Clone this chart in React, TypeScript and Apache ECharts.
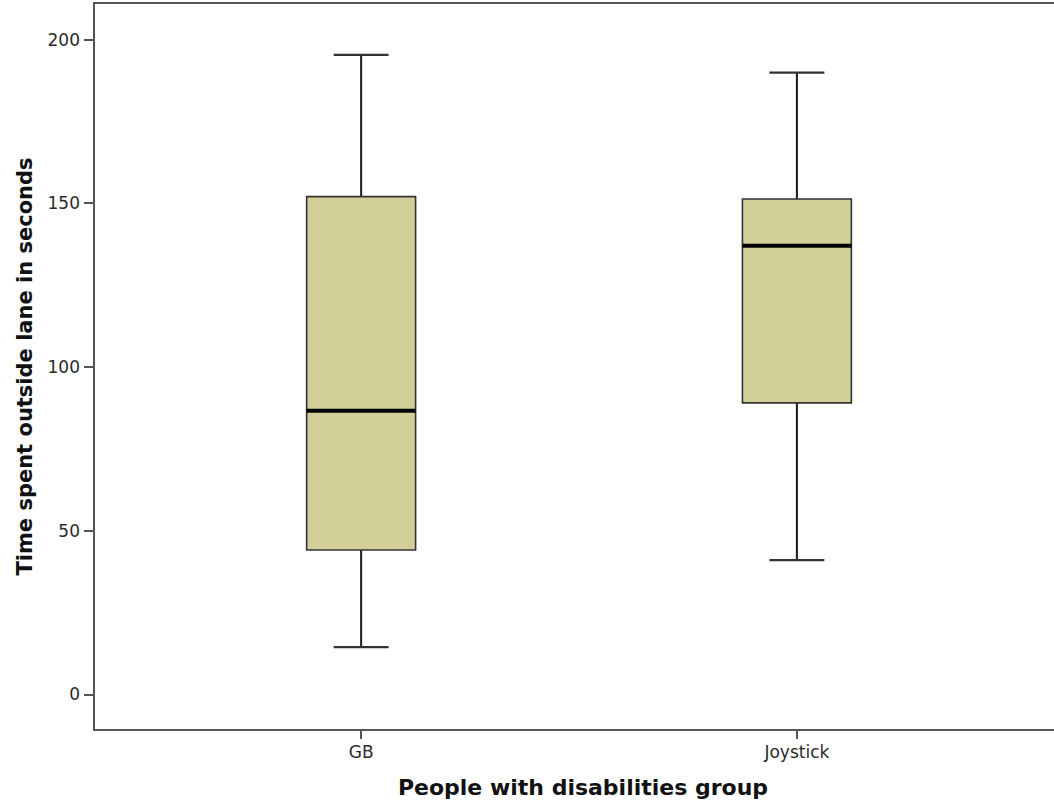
import React, { useEffect, useRef } from "react";
import * as echarts from "echarts";

const categories = ["GB", "Joystick"];
const positions = [1, 2];
const whiskerLow = [14.4, 41.0];
const quartile1 = [44.1, 89.0];
const medians = [86.6, 137.0];
const quartile3 = [152.0, 151.3];
const whiskerHigh = [195.3, 189.9];
const yTicks = [0, 50, 100, 150, 200];

const BOX_W = 0.25;
const CAP_W = 0.126;

export default function App() {
  const ref = useRef<HTMLDivElement>(null);
  useEffect(() => {
    if (!ref.current) return;
    const chart = echarts.init(ref.current, null, { renderer: "svg" });
    const data = positions.map((p, i) => [
      p,
      whiskerLow[i],
      quartile1[i],
      medians[i],
      quartile3[i],
      whiskerHigh[i],
    ]);
    const axisLineStyle = { color: "#555", width: 2 };
    const labelFont = { fontFamily: "DejaVu Sans", fontSize: 17, color: "#2a2a2a" };
    const nameFont = { fontFamily: "DejaVu Sans", fontWeight: "bold" as const, color: "#111" };
    chart.setOption({
      animation: false,
      backgroundColor: "#fff",
      grid: { left: 94, right: 0, top: 3, bottom: 77 },
      xAxis: [
        {
          type: "value",
          min: 0.387,
          max: 2.59,
          splitLine: { show: false },
          axisLine: { show: true, onZero: false, lineStyle: axisLineStyle },
          axisTick: { show: true, length: 9, customValues: positions, lineStyle: axisLineStyle },
          axisLabel: {
            ...labelFont,
            margin: 13,
            customValues: positions,
            formatter: (v: number) => categories[Math.round(v) - 1] ?? "",
          },
          name: "People with disabilities group",
          nameLocation: "middle",
          nameGap: 46,
          nameTextStyle: { ...nameFont, fontSize: 22, padding: [0, 0, 0, 18] },
        },
        {
          type: "value",
          position: "top",
          min: 0.387,
          max: 2.59,
          splitLine: { show: false },
          axisLine: { show: true, onZero: false, lineStyle: axisLineStyle },
          axisTick: { show: false },
          axisLabel: { show: false },
        },
      ],
      yAxis: {
        type: "value",
        min: -10.9,
        max: 211.15,
        splitLine: { show: false },
        axisLine: { show: true, onZero: false, lineStyle: axisLineStyle },
        axisTick: { show: true, length: 10, customValues: yTicks, lineStyle: axisLineStyle },
        axisLabel: { ...labelFont, margin: 14, customValues: yTicks },
        name: "Time spent outside lane in seconds",
        nameLocation: "middle",
        nameGap: 59,
        nameTextStyle: { ...nameFont, fontSize: 21 },
      },
      series: [
        {
          type: "custom",
          xAxisIndex: 0,
          yAxisIndex: 0,
          encode: { x: 0, y: [1, 2, 3, 4, 5] },
          data,
          renderItem: (params: any, api: any) => {
            const x = api.value(0);
            const lo = api.value(1);
            const q1 = api.value(2);
            const med = api.value(3);
            const q3 = api.value(4);
            const hi = api.value(5);
            const hb = BOX_W / 2;
            const hc = CAP_W / 2;
            const pTop = api.coord([x, hi]);
            const pQ3 = api.coord([x, q3]);
            const pQ1 = api.coord([x, q1]);
            const pLo = api.coord([x, lo]);
            const bl = api.coord([x - hb, q3]);
            const br = api.coord([x + hb, q1]);
            const ml = api.coord([x - hb, med]);
            const mr = api.coord([x + hb, med]);
            const capTL = api.coord([x - hc, hi]);
            const capTR = api.coord([x + hc, hi]);
            const capBL = api.coord([x - hc, lo]);
            const capBR = api.coord([x + hc, lo]);
            const wStyle = { stroke: "#1a1a1a", lineWidth: 2 };
            return {
              type: "group",
              children: [
                { type: "line", shape: { x1: pTop[0], y1: pTop[1], x2: pQ3[0], y2: pQ3[1] }, style: wStyle },
                { type: "line", shape: { x1: pQ1[0], y1: pQ1[1], x2: pLo[0], y2: pLo[1] }, style: wStyle },
                { type: "line", shape: { x1: capTL[0], y1: capTL[1], x2: capTR[0], y2: capTR[1] }, style: { stroke: "#333", lineWidth: 2.2 } },
                { type: "line", shape: { x1: capBL[0], y1: capBL[1], x2: capBR[0], y2: capBR[1] }, style: { stroke: "#333", lineWidth: 2.2 } },
                {
                  type: "rect",
                  shape: { x: bl[0], y: bl[1], width: br[0] - bl[0], height: br[1] - bl[1] },
                  style: { fill: "#d2ce97", stroke: "#333", lineWidth: 1.6 },
                },
                { type: "line", shape: { x1: ml[0], y1: ml[1], x2: mr[0], y2: mr[1] }, style: { stroke: "#000", lineWidth: 4 } },
              ],
            };
          },
        },
      ],
    });
    return () => chart.dispose();
  }, []);
  return (
    <div
      ref={ref}
      style={{ position: "fixed", left: 0, top: 0, width: 1054, height: 807 }}
    />
  );
}
